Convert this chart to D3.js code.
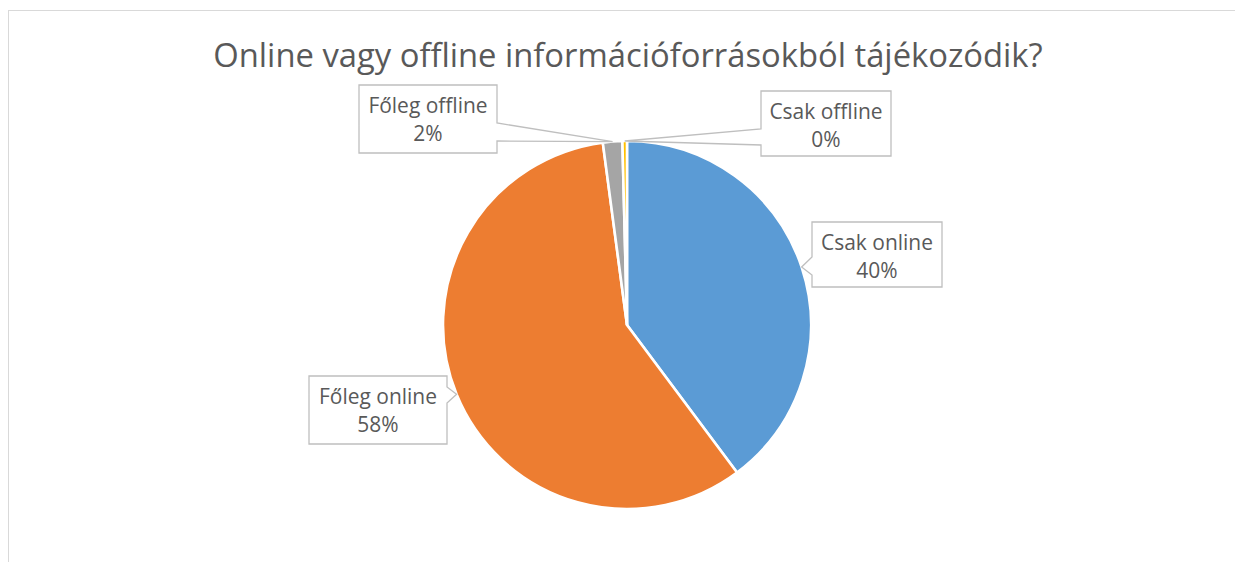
<!DOCTYPE html>
<html>
<head>
<meta charset="utf-8">
<script src="https://cdn.jsdelivr.net/npm/d3@7"></script>
<style>
  body { margin: 0; background: #fff; }
  svg { display: block; }
  text { font-family: "Open Sans", sans-serif; fill: #595959; }
</style>
</head>
<body>
<svg id="chart" width="1235" height="562"></svg>
<script>
// data
var categories = ["Csak online", "Főleg online", "Főleg offline", "Csak offline"];
var values = [39.8, 58.1, 1.7, 0.4];
var pctLabels = ["40%", "58%", "2%", "0%"];
var colors = ["#5B9BD5", "#ED7D31", "#A5A5A5", "#FFC000"];
var title = "Online vagy offline információforrásokból tájékozódik?";

var svg = d3.select("#chart");

// chart area border (only top/left visible in the reference)
svg.append("rect")
  .attr("x", 8.5).attr("y", 10.5)
  .attr("width", 1240).attr("height", 600)
  .attr("fill", "none")
  .attr("stroke", "#d9d9d9");

// title, sized to fit the reference width
var t = svg.append("text")
  .attr("x", 628).attr("y", 67)
  .attr("text-anchor", "middle")
  .style("font-size", "30px")
  .text(title);
var tw = t.node().getComputedTextLength();
t.style("font-size", (30 * 830 / tw) + "px");

var cx = 627, cy = 325, r = 184;

var pie = d3.pie().sort(null).value(function (d) { return d; });
var arcs = pie(values);
var arc = d3.arc().innerRadius(0).outerRadius(r);

var g = svg.append("g").attr("transform", "translate(" + cx + "," + cy + ")");

g.selectAll("path.slice")
  .data(arcs)
  .enter().append("path")
  .attr("class", "slice")
  .attr("d", arc)
  .attr("fill", function (d, i) { return colors[i]; })
  .attr("stroke", "#fff")
  .attr("stroke-width", 2.6);

// callout boxes: layout only
var boxes = [
  {x: 812, y: 222, w: 130, h: 65, side: "left", b0: 257, b1: 275},
  {x: 309, y: 376, w: 138, h: 68, side: "right", b0: 387, b1: 403},
  {x: 359, y: 85, w: 138, h: 68, side: "right", b0: 123, b1: 141},
  {x: 761, y: 91, w: 130, h: 65, side: "left", b0: 129, b1: 145}
];

function tipPoint(d) {
  var a = (d.startAngle + d.endAngle) / 2;
  return [cx + r * Math.sin(a), cy - r * Math.cos(a)];
}

function calloutPath(b, tip) {
  var x0 = b.x, y0 = b.y, x1 = b.x + b.w, y1 = b.y + b.h;
  var p = d3.path();
  p.moveTo(x0, y0);
  p.lineTo(x1, y0);
  if (b.side === "right") {
    p.lineTo(x1, b.b0);
    p.lineTo(tip[0], tip[1]);
    p.lineTo(x1, b.b1);
  }
  p.lineTo(x1, y1);
  p.lineTo(x0, y1);
  if (b.side === "left") {
    p.lineTo(x0, b.b1);
    p.lineTo(tip[0], tip[1]);
    p.lineTo(x0, b.b0);
  }
  p.closePath();
  return p.toString();
}

var labelG = svg.append("g");
var fontSize = 18;

arcs.forEach(function (d, i) {
  var b = boxes[i];
  labelG.append("path")
    .attr("d", calloutPath(b, tipPoint(d)))
    .attr("fill", "#fff")
    .attr("stroke", "#bfbfbf")
    .attr("stroke-width", 1.3);
  var txt = labelG.append("text")
    .attr("class", "lbl")
    .attr("text-anchor", "middle")
    .attr("x", b.x + b.w / 2)
    .attr("y", b.y + 28);
  txt.append("tspan").attr("x", b.x + b.w / 2).attr("y", b.y + 28).text(categories[i]);
  txt.append("tspan").attr("x", b.x + b.w / 2).attr("y", b.y + 56).text(pctLabels[i]);
});

// fit label font so "Csak online" is about 112px wide like the reference
var probe = labelG.select("text.lbl tspan");
labelG.selectAll("text.lbl").style("font-size", fontSize + "px");
var pw = probe.node().getComputedTextLength();
labelG.selectAll("text.lbl").style("font-size", (fontSize * 112 / pw) + "px");
</script>
</body>
</html>
